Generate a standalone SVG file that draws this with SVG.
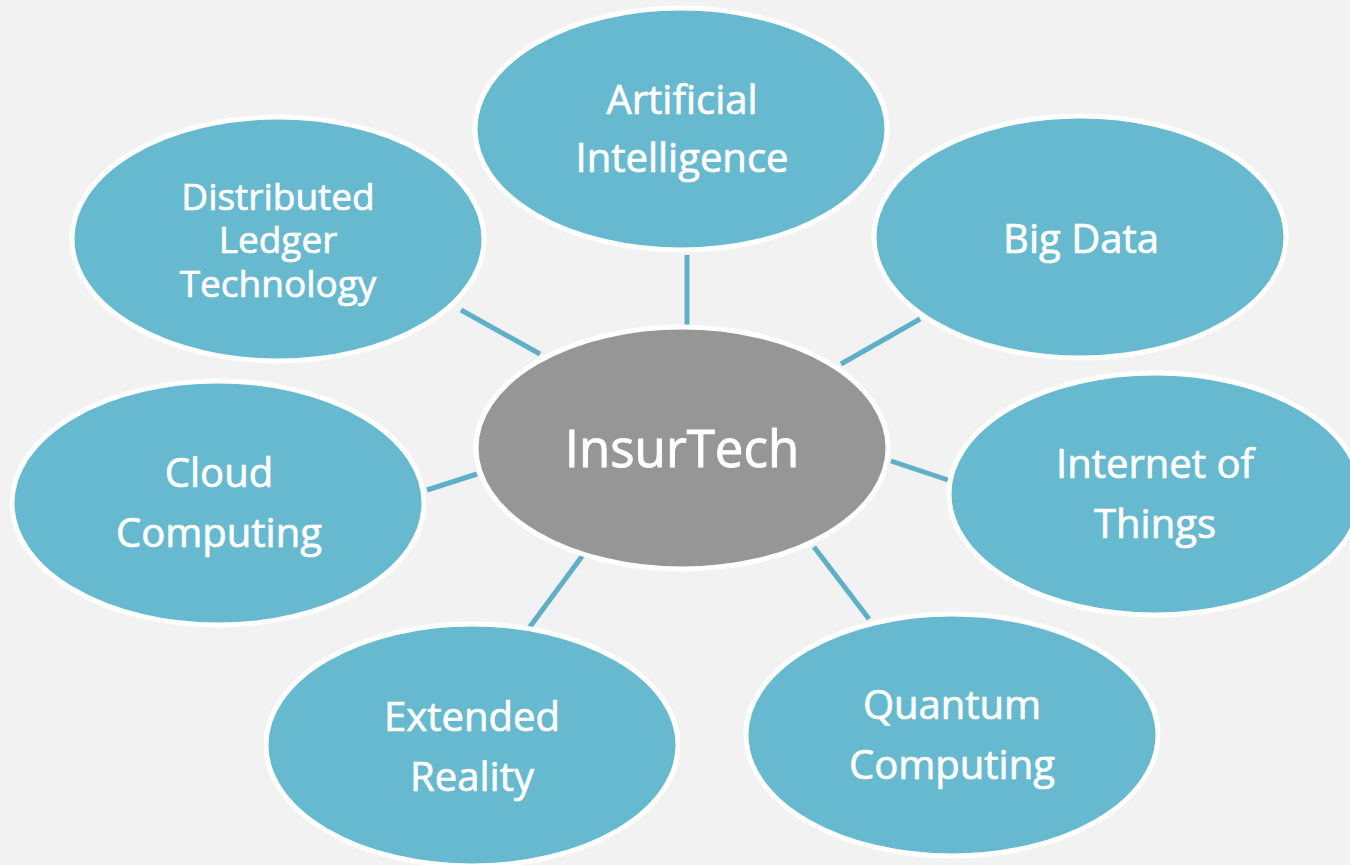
<svg xmlns="http://www.w3.org/2000/svg" width="1350" height="865" viewBox="0 0 1350 865">
  <style>
    .bubble { fill: #67b9cf; stroke: #ffffff; stroke-width: 5; }
    .hub { fill: #969696; stroke: #ffffff; stroke-width: 5; }
    .link { stroke: #5eafc8; stroke-width: 5; fill: none; }
    .label { font-family: "Open Sans", "Noto Sans", "DejaVu Sans", sans-serif; fill: #ffffff; stroke: #ffffff; stroke-width: 0.7; text-anchor: middle; font-size: 40px; }
    .small { font-size: 37px; }
    .title { font-size: 51px; stroke-width: 0.9; }
  </style>
  <rect x="0" y="0" width="1350" height="865" fill="#f2f2f2"/>

  <!-- spokes from the hub to each technology -->
  <g id="connectors">
    <line class="link" x1="687" y1="255" x2="687" y2="325"/>
    <line class="link" x1="920" y1="319" x2="841" y2="364"/>
    <line class="link" x1="461" y1="310" x2="540" y2="354"/>
    <line class="link" x1="891" y1="461" x2="948" y2="480"/>
    <line class="link" x1="427" y1="490" x2="477" y2="474"/>
    <line class="link" x1="583" y1="555" x2="529" y2="628"/>
    <line class="link" x1="814" y1="547" x2="869" y2="619"/>
  </g>

  <g id="insurtech">
    <ellipse class="hub" cx="682" cy="448" rx="206" ry="121"/>
    <text class="label title" x="682" y="467">InsurTech</text>
  </g>

  <g id="artificial-intelligence">
    <ellipse class="bubble" cx="681" cy="129" rx="206" ry="121"/>
    <text class="label" x="682" y="114">Artificial</text>
    <text class="label" x="682" y="172">Intelligence</text>
  </g>

  <g id="big-data">
    <ellipse class="bubble" cx="1080" cy="237" rx="206" ry="121"/>
    <text class="label" x="1081" y="253">Big Data</text>
  </g>

  <g id="distributed-ledger">
    <ellipse class="bubble" cx="278" cy="239" rx="206" ry="122"/>
    <text class="label small" x="278" y="210">Distributed</text>
    <text class="label small" x="278" y="253">Ledger</text>
    <text class="label small" x="278" y="297">Technology</text>
  </g>

  <g id="internet-of-things">
    <ellipse class="bubble" cx="1155" cy="494" rx="206" ry="121"/>
    <text class="label" x="1155" y="478">Internet of</text>
    <text class="label" x="1155" y="538">Things</text>
  </g>

  <g id="cloud-computing">
    <ellipse class="bubble" cx="218" cy="503" rx="206" ry="122"/>
    <text class="label" x="219" y="487">Cloud</text>
    <text class="label" x="219" y="547">Computing</text>
  </g>

  <g id="extended-reality">
    <ellipse class="bubble" cx="472" cy="745" rx="206" ry="121"/>
    <text class="label" x="472" y="731">Extended</text>
    <text class="label" x="472" y="791">Reality</text>
  </g>

  <g id="quantum-computing">
    <ellipse class="bubble" cx="952" cy="735" rx="206" ry="121"/>
    <text class="label" x="952" y="719">Quantum</text>
    <text class="label" x="952" y="779">Computing</text>
  </g>
</svg>
